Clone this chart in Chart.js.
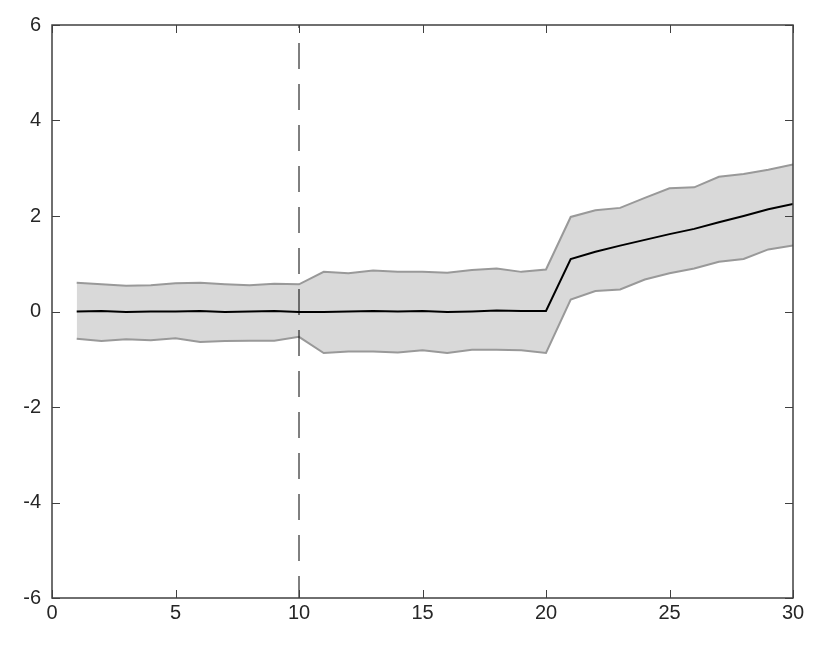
<!DOCTYPE html>
<html>
<head>
<meta charset="utf-8">
<script src="https://cdn.jsdelivr.net/npm/chart.js@4"></script>
<style>
  html, body { margin: 0; padding: 0; background: #fff; }
  #wrap { width: 830px; height: 648px; }
</style>
</head>
<body>
<div id="wrap"><canvas id="grafico" width="830" height="648"></canvas></div>
<script>
const horizontes = [1,2,3,4,5,6,7,8,9,10,11,12,13,14,15,16,17,18,19,20,21,22,23,24,25,26,27,28,29,30];
const media = [0, 0.01, -0.01, 0, 0, 0.01, -0.01, 0, 0.01, -0.01, -0.01, 0, 0.01, 0, 0.01, -0.01, 0, 0.02, 0.01, 0.01,
  1.1, 1.25, 1.38, 1.5, 1.62, 1.73, 1.87, 2.0, 2.14, 2.25];
const superior = [0.6, 0.57, 0.54, 0.55, 0.59, 0.6, 0.57, 0.55, 0.58, 0.57, 0.83, 0.8, 0.86, 0.83, 0.83, 0.81, 0.87, 0.9, 0.83, 0.88,
  1.98, 2.12, 2.17, 2.38, 2.58, 2.6, 2.82, 2.88, 2.97, 3.08];
const inferior = [-0.57, -0.62, -0.58, -0.6, -0.56, -0.64, -0.62, -0.61, -0.61, -0.53, -0.87, -0.84, -0.84, -0.86, -0.81, -0.87, -0.8, -0.8, -0.81, -0.87,
  0.25, 0.43, 0.46, 0.67, 0.8, 0.9, 1.04, 1.1, 1.3, 1.38];
const linhaVertical = 10;
const xTicks = [0, 5, 10, 15, 20, 25, 30];
const yTicks = [-6, -4, -2, 0, 2, 4, 6];

const pts = (arr) => horizontes.map((h, i) => ({ x: h, y: arr[i] }));

// moldura e marcas internas (estilo matlab/octave)
const moldura = {
  id: 'moldura',
  afterDatasetsDraw(chart) {
    const { ctx, chartArea: a, scales } = chart;
    ctx.save();
    ctx.strokeStyle = '#404040';
    ctx.lineWidth = 1;
    ctx.beginPath();
    xTicks.forEach(v => {
      const px = Math.round(scales.x.getPixelForValue(v)) + 0.5;
      ctx.moveTo(px, a.bottom); ctx.lineTo(px, a.bottom - 8);
      ctx.moveTo(px, a.top); ctx.lineTo(px, a.top + 8);
    });
    yTicks.forEach(v => {
      const py = Math.round(scales.y.getPixelForValue(v)) + 0.5;
      ctx.moveTo(a.left, py); ctx.lineTo(a.left + 8, py);
      ctx.moveTo(a.right, py); ctx.lineTo(a.right - 8, py);
    });
    ctx.stroke();
    ctx.lineWidth = 1.5;
    ctx.strokeRect(a.left, a.top, a.right - a.left, a.bottom - a.top);
    ctx.restore();
  }
};

const ctx = document.getElementById('grafico').getContext('2d');
new Chart(ctx, {
  type: 'line',
  data: {
    datasets: [
      {
        label: 'superior',
        data: pts(superior),
        borderColor: '#999999',
        borderWidth: 2,
        backgroundColor: '#d9d9d9',
        fill: '+1',
        pointRadius: 0,
        tension: 0,
        order: 3
      },
      {
        label: 'inferior',
        data: pts(inferior),
        borderColor: '#999999',
        borderWidth: 2,
        fill: false,
        pointRadius: 0,
        tension: 0,
        order: 2
      },
      {
        label: 'limite',
        data: [{ x: linhaVertical, y: -6 }, { x: linhaVertical, y: 6 }],
        borderColor: '#000000',
        borderWidth: 1,
        borderDash: [26, 15],
        borderDashOffset: 4,
        fill: false,
        pointRadius: 0,
        order: 1
      },
      {
        label: 'media',
        data: pts(media),
        borderColor: '#000000',
        borderWidth: 2,
        fill: false,
        pointRadius: 0,
        tension: 0,
        order: 0
      }
    ]
  },
  options: {
    responsive: false,
    animation: false,
    layout: { padding: { top: 25, right: 37, left: 0, bottom: 0 } },
    plugins: { legend: { display: false }, tooltip: { enabled: false } },
    scales: {
      x: {
        type: 'linear',
        min: 0, max: 30,
        afterBuildTicks: (s) => { s.ticks = xTicks.map(v => ({ value: v })); },
        afterFit: (s) => { s.height = 50; },
        grid: { display: false, drawTicks: false },
        border: { display: false },
        ticks: { color: '#262626', font: { family: 'Liberation Sans', size: 20 }, padding: 3, maxRotation: 0 }
      },
      y: {
        type: 'linear',
        min: -6, max: 6,
        afterBuildTicks: (s) => { s.ticks = yTicks.map(v => ({ value: v })); },
        afterFit: (s) => { s.width = 52; },
        grid: { display: false, drawTicks: false },
        border: { display: false },
        ticks: { color: '#262626', font: { family: 'Liberation Sans', size: 20 }, padding: 11 }
      }
    }
  },
  plugins: [moldura]
});
</script>
</body>
</html>
